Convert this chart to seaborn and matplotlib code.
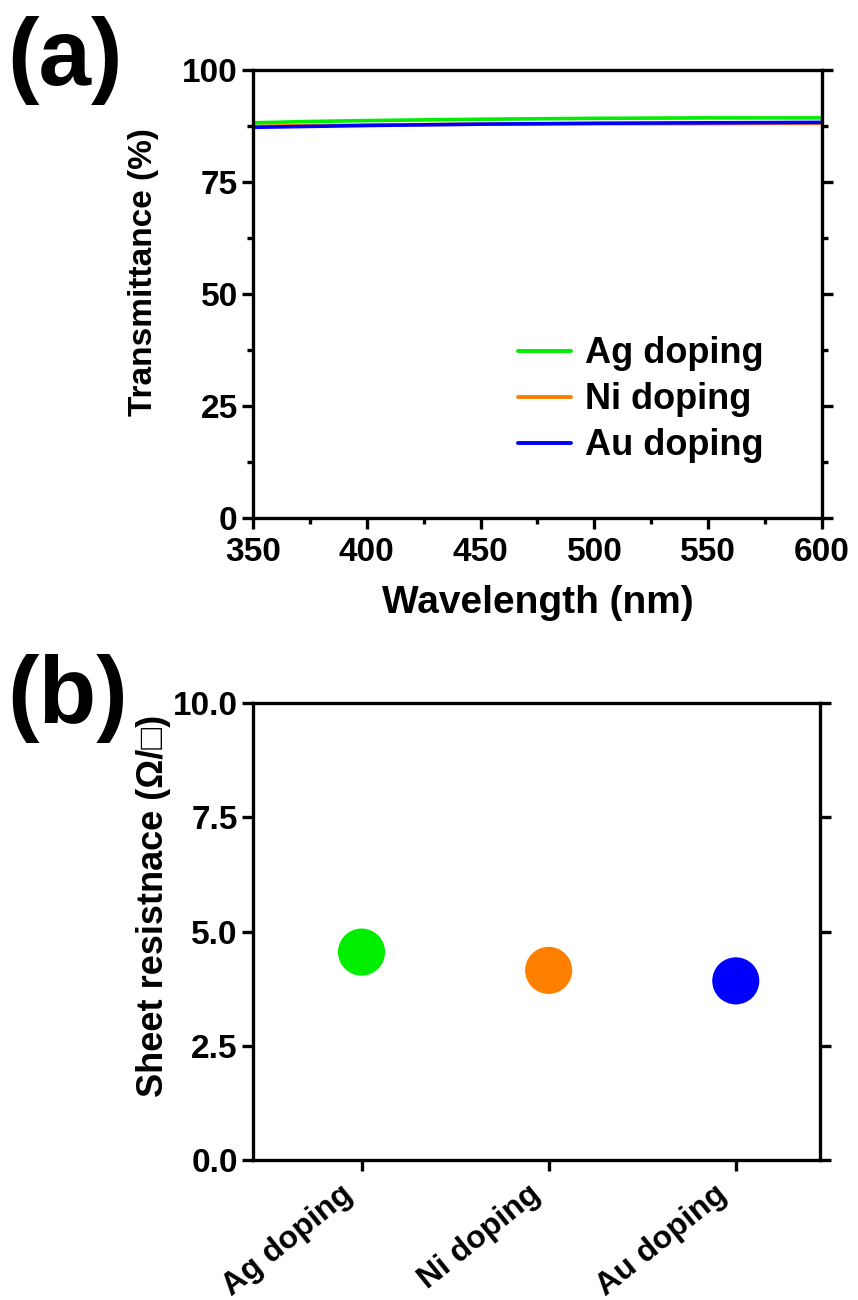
import matplotlib
matplotlib.use("Agg")
import matplotlib.pyplot as plt
import matplotlib.transforms as mtransforms
import seaborn as sns
import pandas as pd
from matplotlib.ticker import MultipleLocator, FormatStrFormatter

sns.set_style("ticks")
plt.rcParams['font.family'] = ['Liberation Sans', 'DejaVu Sans']
plt.rcParams['font.weight'] = 'bold'
plt.rcParams['text.color'] = 'black'
plt.rcParams['axes.labelcolor'] = 'black'
plt.rcParams['xtick.color'] = 'black'
plt.rcParams['ytick.color'] = 'black'

# ---- data ----
wavelength = [350, 375, 400, 450, 500, 550, 600]
ag_T = [88.2, 88.5, 88.7, 89.0, 89.2, 89.3, 89.3]
ni_T = [87.4, 87.6, 87.7, 87.9, 88.0, 88.0, 88.1]
au_T = [87.2, 87.4, 87.6, 87.9, 88.1, 88.2, 88.3]
series_names = ["Ag doping", "Ni doping", "Au doping"]
sheet_res = [4.55, 4.15, 3.92]
colors = ["#00EE00", "#FF8000", "#0000FF"]

df_a = pd.DataFrame({
    "Wavelength": wavelength * 3,
    "T": ag_T + ni_T + au_T,
    "Sample": [series_names[0]] * len(wavelength) + [series_names[1]] * len(wavelength) + [series_names[2]] * len(wavelength),
})
df_b = pd.DataFrame({"Sample": series_names, "R": sheet_res})
pal = dict(zip(series_names, colors))

fig = plt.figure(figsize=(8.58, 13.0), dpi=100)
ax1 = fig.add_axes([0.2949, 0.6015, 0.6631, 0.3447])
ax2 = fig.add_axes([0.2949, 0.1077, 0.6608, 0.3515])

fs_tick = 24
lw = 2.4

# ---- panel a ----
sns.lineplot(data=df_a, x="Wavelength", y="T", hue="Sample", palette=pal, ax=ax1,
             linewidth=2.6, hue_order=[series_names[1], series_names[2], series_names[0]])
ax1.set_xlim(350, 600)
ax1.set_ylim(0, 100)
ax1.xaxis.set_major_locator(MultipleLocator(50))
ax1.xaxis.set_minor_locator(MultipleLocator(25))
ax1.yaxis.set_major_locator(MultipleLocator(25))
ax1.yaxis.set_minor_locator(MultipleLocator(12.5))
ax1.set_xlabel("Wavelength (nm)", fontsize=28, fontweight='bold', labelpad=12)
ax1.set_ylabel("Transmittance (%)", fontsize=24, fontweight='bold')
ax1.yaxis.set_label_coords(-0.165, 0.55)
handles, labels = ax1.get_legend_handles_labels()
order = [labels.index(n) for n in series_names]
leg = ax1.legend([handles[i] for i in order], [labels[i] for i in order],
                 loc="lower right", frameon=False, fontsize=26, handlelength=1.45,
                 bbox_to_anchor=(0.955, 0.05), labelspacing=0.3, handletextpad=0.4)
for t in leg.get_texts():
    t.set_fontweight('bold')
for h in leg.get_lines():
    h.set_linewidth(2.8)

# ---- panel b ----
sns.scatterplot(data=df_b, x="Sample", y="R", hue="Sample", palette=pal, ax=ax2,
                s=1150, edgecolor="none", legend=False)
ax2.set_xlim(-0.58, 2.45)
ax2.set_ylim(0, 10)
ax2.yaxis.set_major_locator(MultipleLocator(2.5))
ax2.yaxis.set_major_formatter(FormatStrFormatter('%.1f'))
ax2.set_xlabel("")
ax2.set_ylabel("Sheet resistnace (Ω/□)", fontsize=26, fontweight='bold')
ax2.yaxis.set_label_coords(-0.145, 0.556)
ax2.set_xticks(range(3))
ax2.set_xticklabels(series_names, rotation=39, ha='right', va='center', rotation_mode='anchor')

for ax in (ax1, ax2):
    for s in ax.spines.values():
        s.set_visible(True)
        s.set_linewidth(lw)
        s.set_color('black')
    ax.tick_params(which='major', direction='out', length=8, width=lw, labelsize=fs_tick, pad=3)
    ax.tick_params(which='minor', direction='out', length=4, width=lw)
    ax.tick_params(right=True, which='both')
    for lab in ax.get_xticklabels() + ax.get_yticklabels():
        lab.set_fontweight('bold')
    ax.set_facecolor('white')

ax1.tick_params(axis='x', pad=6)
ax2.tick_params(axis='x', pad=14, labelsize=23)
offset = mtransforms.ScaledTranslation(-0.12, 0, fig.dpi_scale_trans)
for lab in ax2.get_xticklabels():
    lab.set_transform(lab.get_transform() + offset)

fig.text(0.008, 0.988, "(a)", fontsize=68, fontweight='bold', va='top', ha='left')
fig.text(0.008, 0.497, "(b)", fontsize=68, fontweight='bold', va='top', ha='left')

fig.savefig("out.png", dpi=100, facecolor='white')
